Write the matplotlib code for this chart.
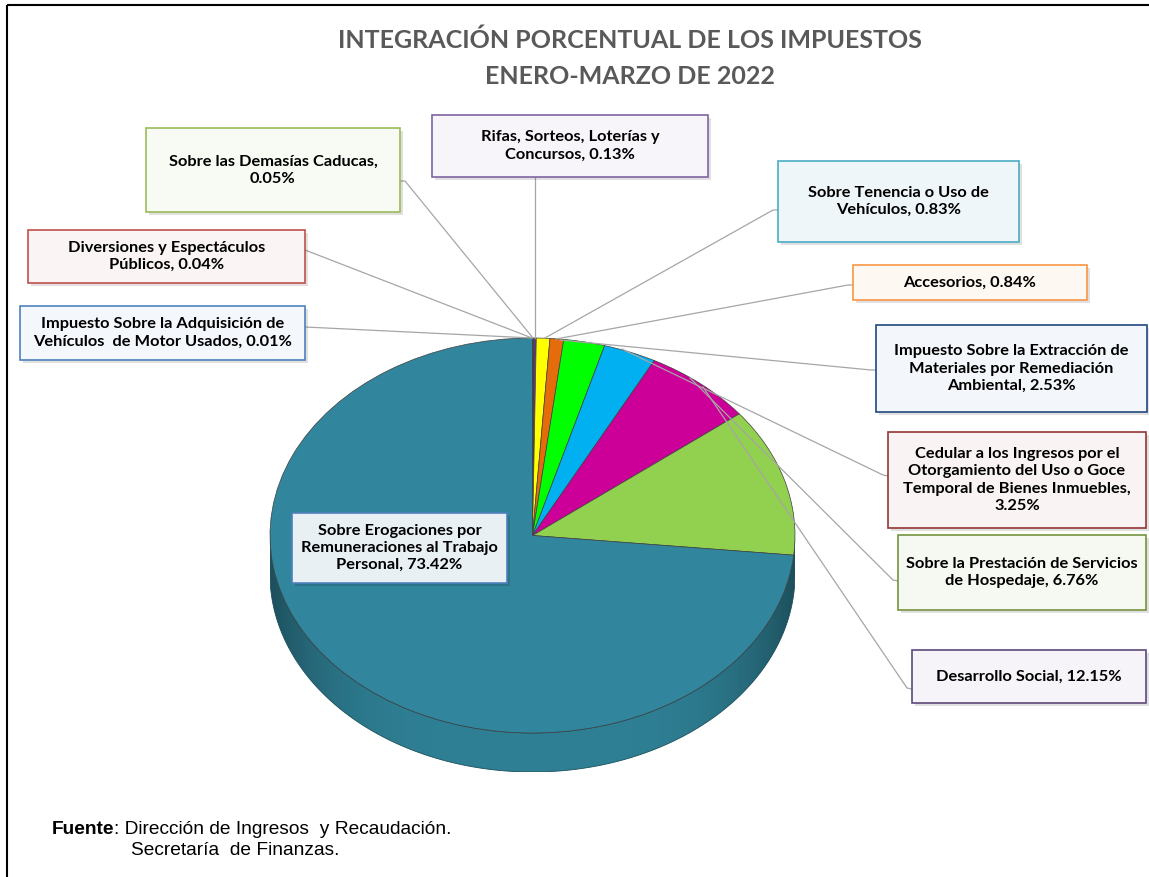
import matplotlib
matplotlib.use("Agg")
import matplotlib.pyplot as plt
import numpy as np
from matplotlib.patches import Rectangle, Polygon

W, H = 1149, 877

# --- data -------------------------------------------------------------
names = [
    "Impuesto Sobre la Adquisición de\nVehículos  de Motor Usados",
    "Diversiones y Espectáculos\nPúblicos",
    "Sobre las Demasías Caducas",
    "Rifas, Sorteos, Loterías y\nConcursos",
    "Sobre Tenencia o Uso de\nVehículos",
    "Accesorios",
    "Impuesto Sobre la Extracción de\nMateriales por Remediación\nAmbiental",
    "Cedular a los Ingresos por el\nOtorgamiento del Uso o Goce\nTemporal de Bienes Inmuebles",
    "Sobre la Prestación de Servicios\nde Hospedaje",
    "Desarrollo Social",
    "Sobre Erogaciones por\nRemuneraciones al Trabajo\nPersonal",
]
shares = [0.01, 0.04, 0.05, 0.13, 0.83, 0.84, 2.53, 3.25, 6.76, 12.15, 73.42]
slice_colors = ["#1F497D", "#C0504D", "#9BBB59", "#7030A0", "#FFFF00", "#E46C0A",
                "#00FF00", "#00B0F0", "#CC0099", "#92D050", "#31859C"]

# --- label layout (pixel coords, y down) ------------------------------
boxes = [
    (20, 306, 305, 360), (28, 230, 305, 283), (146, 128, 400, 212),
    (432, 115, 708, 177), (778, 161, 1019, 242), (853, 265, 1087, 300),
    (876, 325, 1147, 412), (888, 432, 1146, 528), (898, 535, 1146, 610),
    (912, 650, 1146, 703), (292, 513, 507, 583),
]
box_edges = ["#4F81BD", "#C0504D", "#9BBB59", "#8064A2", "#4BACC6", "#F79646",
             "#1F497D", "#943634", "#76923C", "#5F497A", "#4F81BD"]
box_fills = ["#F4F7FB", "#FAF4F4", "#F8FAF4", "#F7F5FA", "#EEF6F9", "#FEF8F3",
             "#F3F6FA", "#F9F3F3", "#F6F8F2", "#F6F4F8", "#E9F0F4"]
pct_on_new_line = {2, 7}
leaders = [
    [(305, 327), (532, 338)],
    [(305, 250), (532, 338)],
    [(400, 181), (405, 181), (533, 338)],
    [(535, 177), (535, 338)],
    [(778, 210), (773, 210), (545, 338)],
    [(853, 285), (848, 285), (556, 339)],
    [(876, 370), (871, 370), (560, 340)],
    [(888, 476), (883, 475), (622, 349)],
    [(898, 581), (893, 580), (690, 378)],
    [(912, 689), (907, 688), (703, 387)],
    None,
]

# pie footprint in pixels
pie_left, pie_right, pie_top = 270, 795, 338
ry_px, depth_px = 197.5, 39
depth = depth_px / ry_px

fig = plt.figure(figsize=(W / 100, H / 100), dpi=100)

# --- pie --------------------------------------------------------------
pie_bottom = pie_top + 2 * ry_px + depth_px
ax_pie = fig.add_axes([pie_left / W, 1 - pie_bottom / H,
                       (pie_right - pie_left) / W, (pie_bottom - pie_top) / H])

t = np.linspace(np.pi, 2 * np.pi, 200)
side_xy = np.concatenate([np.c_[np.cos(t), np.sin(t)],
                          np.c_[np.cos(t[::-1]), np.sin(t[::-1]) - depth]])
side = Polygon(side_xy, closed=True, facecolor="none", edgecolor="#1B4F5C", lw=0.6)
ax_pie.add_patch(side)
gx = np.linspace(-1, 1, 300)
shade = 0.62 + 0.38 * (1 - np.abs(gx) ** 4)
base = np.array([0x2F, 0x80, 0x95]) / 255
img = (shade[None, :, None] * base[None, None, :]).repeat(2, axis=0)
im = ax_pie.imshow(img, extent=(-1, 1, -1 - depth, 0), aspect="auto", zorder=0.5)
im.set_clip_path(side)

ax_pie.pie(shares, colors=slice_colors, startangle=90, counterclock=False,
           wedgeprops=dict(edgecolor="#3F3F3F", linewidth=0.5))
ax_pie.set_xlim(-1, 1)
ax_pie.set_ylim(-1 - depth, 1)
ax_pie.set_aspect("auto")
ax_pie.axis("off")

# --- overlay: title, boxes, leader lines -----------------------------
ax = fig.add_axes([0, 0, 1, 1])
ax.set_xlim(0, W)
ax.set_ylim(H, 0)
ax.axis("off")
ax.patch.set_alpha(0)

ax.add_patch(Rectangle((7, 5), W + 10, H + 10, fill=False, edgecolor="black", lw=1.5))

ax.text(630, 40, "INTEGRACIÓN PORCENTUAL DE LOS IMPUESTOS", ha="center", va="center",
        family="Lato", weight="bold", fontsize=18, color="#595959")
ax.text(630, 76, "ENERO-MARZO DE 2022", ha="center", va="center",
        family="Lato", weight="bold", fontsize=18, color="#595959")

for i, (name, val) in enumerate(zip(names, shares)):
    x0, y0, x1, y1 = boxes[i]
    if leaders[i] is not None:
        xs, ys = zip(*leaders[i])
        ax.plot(xs, ys, color="#A6A6A6", lw=0.9, zorder=2)
    ax.add_patch(Rectangle((x0 + 3, y0 + 3), x1 - x0, y1 - y0, facecolor="#000000",
                           alpha=0.12, edgecolor="none", zorder=3))
    ax.add_patch(Rectangle((x0, y0), x1 - x0, y1 - y0, facecolor=box_fills[i],
                           edgecolor=box_edges[i], lw=1.2, zorder=4))
    sep = ",\n" if i in pct_on_new_line else ", "
    ax.text((x0 + x1) / 2, (y0 + y1) / 2, f"{name}{sep}{val:.2f}%", ha="center",
            va="center", multialignment="center", family="Lato", weight="bold",
            fontsize=11.8, linespacing=1.28, color="black", zorder=5)

# source note: bold "Fuente" followed by regular text on the same baseline
src = ax.text(52, 834, "Fuente", family="Liberation Sans", weight="bold",
              fontsize=13.8, va="baseline")
fig.canvas.draw()
src_end = ax.transData.inverted().transform(
    (src.get_window_extent().x1, 0))[0]
ax.text(src_end, 834, ": Dirección de Ingresos  y Recaudación.",
        family="Liberation Sans", fontsize=13.8, va="baseline")
ax.text(131, 855, "Secretaría  de Finanzas.", family="Liberation Sans",
        fontsize=13.8, va="baseline")

fig.savefig("out.png", dpi=100)
plt.close(fig)
